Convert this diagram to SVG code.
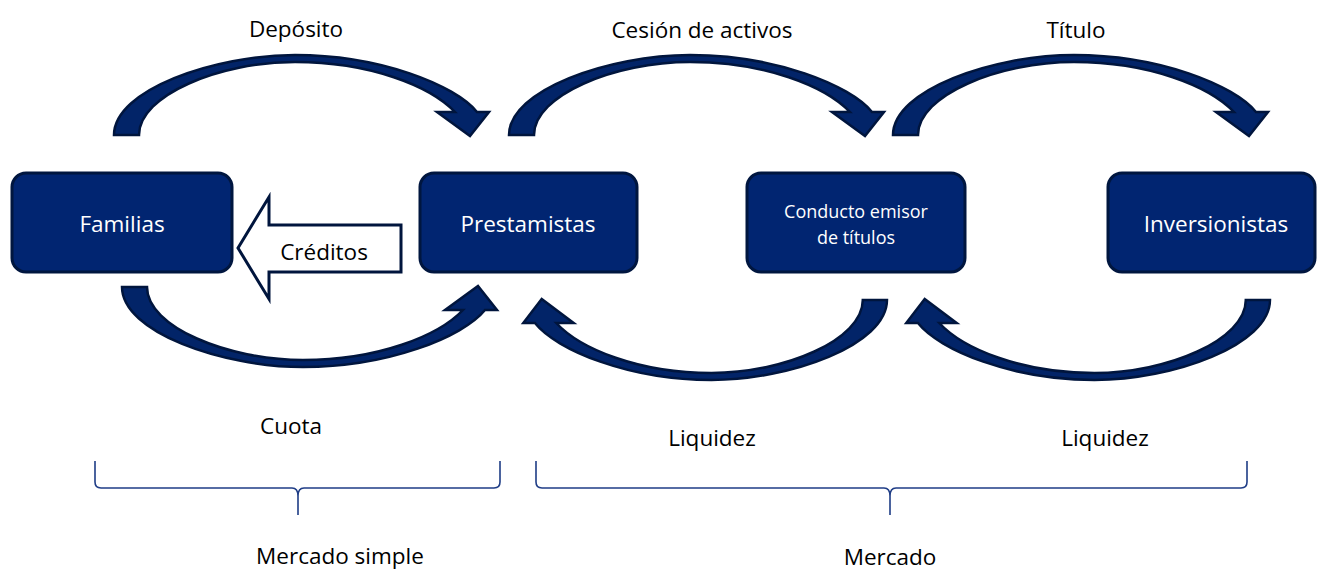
<svg xmlns="http://www.w3.org/2000/svg" width="1317" height="572" viewBox="0 0 1317 572">
<style>
.box{fill:#012571;stroke:#00163f;stroke-width:3}
.arr{fill:#022468;stroke:#00153d;stroke-width:2.5;stroke-linejoin:miter}
.lbl{font-family:"Open Sans","Liberation Sans",sans-serif;font-size:22.5px;fill:#000;text-anchor:middle}
.wl{font-family:"Open Sans","Liberation Sans",sans-serif;font-size:22.5px;fill:#fff;text-anchor:middle}
.ws{font-family:"Open Sans","Liberation Sans",sans-serif;font-size:18px;fill:#fff;text-anchor:middle}
.brace{fill:none;stroke:#1f3d86;stroke-width:1.6}
</style>
<defs>
<path id="ca" d="M 114,135 C 114,90 214,55 295,55 C 380,55 455,85 477,112 L 489,112 L 470,136 L 437,112 L 455,112 C 430,86 370,62 295,62 C 220,62 139,95 139,135 Z"/>
</defs>
<g id="connectors">
<use href="#ca" class="arr"/>
<use href="#ca" class="arr" transform="translate(395,0)"/>
<use href="#ca" class="arr" transform="translate(779,0)"/>
<use href="#ca" class="arr" transform="matrix(1,0,0,-1,8,422)"/>
<use href="#ca" class="arr" transform="matrix(-0.97,0,0,-1,997.6,435)"/>
<use href="#ca" class="arr" transform="matrix(-0.97,0,0,-1,1380.6,435)"/>
<path d="M 238,248 L 269,197 L 269,225 L 401,225 L 401,272 L 269,272 L 269,299 Z" fill="#fff" stroke="#00153d" stroke-width="3" stroke-linejoin="miter"/>
<text class="lbl" x="324" y="260">Créditos</text>
</g>
<g id="labels">
<text class="lbl" x="296" y="37">Depósito</text>
<text class="lbl" x="702" y="38">Cesión de activos</text>
<text class="lbl" x="1076" y="38">Título</text>
<text class="lbl" x="291" y="434">Cuota</text>
<text class="lbl" x="712" y="446">Liquidez</text>
<text class="lbl" x="1105" y="446">Liquidez</text>
</g>
<g id="node-familias">
<rect class="box" x="12" y="173" width="220" height="99" rx="14"/>
<text class="wl" x="122" y="232">Familias</text>
</g>
<g id="node-prestamistas">
<rect class="box" x="420" y="173" width="217" height="99" rx="14"/>
<text class="wl" x="528" y="232">Prestamistas</text>
</g>
<g id="node-conducto">
<rect class="box" x="747" y="173" width="218" height="99" rx="14"/>
<text class="ws" x="856" y="218">Conducto emisor</text>
<text class="ws" x="856" y="244">de títulos</text>
</g>
<g id="node-inversionistas">
<rect class="box" x="1108" y="173" width="207" height="99" rx="14"/>
<text class="wl" x="1216" y="232">Inversionistas</text>
</g>
<g id="brace-simple">
<path class="brace" d="M 95,461 L 95,482 Q 95,488 101,488 L 292,488 Q 298,488 298,496 L 298,515 M 298,515 L 298,496 Q 298,488 304,488 L 494,488 Q 500,488 500,482 L 500,461"/>
<text class="lbl" x="340" y="564">Mercado simple</text>
</g>
<g id="brace-mercado">
<path class="brace" d="M 536,461 L 536,482 Q 536,488 542,488 L 884,488 Q 890,488 890,496 L 890,515 M 890,515 L 890,496 Q 890,488 896,488 L 1241,488 Q 1247,488 1247,482 L 1247,461"/>
<text class="lbl" x="890" y="565">Mercado</text>
</g>
</svg>
